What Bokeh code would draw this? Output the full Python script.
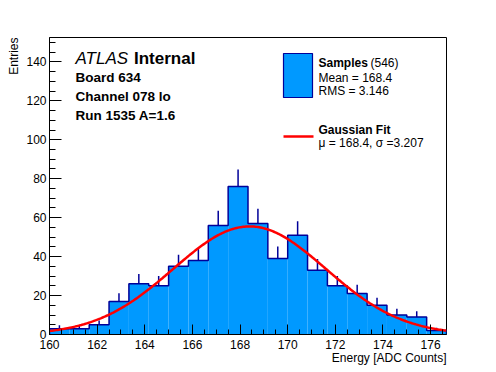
import numpy as np
from bokeh.plotting import figure
from bokeh.models import Range1d, SingleIntervalTicker, Label, Title
from bokeh.embed import file_html
from bokeh.resources import INLINE

# ---------------- data ----------------
x_min = 160.0
x_max = 176.6667
n_bins = 20
counts = [3, 3, 5, 17, 26, 25, 35, 38, 56, 76, 57, 39, 51, 33, 25, 21, 15, 10, 9, 2]
fit_mu = 168.4
fit_sigma = 3.207
fit_amp = 55.5
y_max = 152.5

x_title = "Energy [ADC Counts]"
y_title = "Entries"
atlas_lines = ["Board 634", "Channel 078 lo", "Run 1535 A=1.6"]
legend_samples = ["Mean = 168.4", "RMS = 3.146"]
legend_fit = "\u03bc = 168.4, \u03c3 =3.207"
n_entries = 546

# ---------------- style / layout ----------------
FILL = "#0099ff"
EDGE = "#000099"
FONT = "Liberation Sans"

W, H = 496, 372
# frame position in page pixels
FL, FR, FT, FB = 49.0, 446.0, 37.0, 334.0


def sx(px):
    return x_min + (px - FL) * (x_max - x_min) / (FR - FL)


def sy(py):
    return (FB - py) * y_max / (FB - FT)


edges = np.linspace(x_min, x_max, n_bins + 1)
c = np.array(counts, dtype=float)
centers = 0.5 * (edges[:-1] + edges[1:])
err = np.sqrt(c)

p = figure(width=W, height=H,
           x_range=Range1d(x_min, x_max), y_range=Range1d(0, y_max),
           output_backend="svg", toolbar_location=None,
           min_border_left=int(FL), min_border_right=int(W - FR),
           min_border_top=int(FT), min_border_bottom=int(H - FB))
p.grid.visible = False
p.outline_line_color = "black"
p.outline_line_width = 1
p.background_fill_color = "white"
p.border_fill_color = "white"

p.xaxis.ticker = SingleIntervalTicker(interval=2, num_minor_ticks=4)
p.yaxis.ticker = SingleIntervalTicker(interval=20, num_minor_ticks=4)
for ax in (p.xaxis, p.yaxis):
    ax.major_tick_out = 0
    ax.minor_tick_out = 0
    ax.major_label_text_font = FONT
    ax.major_label_text_font_size = "12px"
    ax.major_label_text_color = "black"
    ax.axis_line_color = "black"
    ax.major_tick_line_color = "black"
    ax.minor_tick_line_color = "black"
p.xaxis.major_tick_in = 10
p.xaxis.minor_tick_in = 5
p.yaxis.major_tick_in = 12
p.yaxis.minor_tick_in = 6
p.xaxis.major_label_standoff = 5
p.yaxis.major_label_standoff = 3

# axis titles, right/top aligned as in ROOT
p.add_layout(Title(text=x_title, align="right", text_font=FONT,
                   text_font_size="12px", text_font_style="normal",
                   text_color="black", standoff=-5), "below")
p.add_layout(Title(text=y_title, align="right", text_font=FONT,
                   text_font_size="12px", text_font_style="normal",
                   text_color="black", standoff=6), "left")

# error bars (lower half hidden by fill)
p.segment(x0=centers, y0=c - err, x1=centers, y1=c + err,
          line_color=EDGE, line_width=1.5)
# fill
p.quad(left=edges[:-1], right=edges[1:], bottom=0, top=c,
       fill_color=FILL, line_color=None)
# outline as step
xs = [edges[0]]
ys = [0.0]
for i in range(n_bins):
    xs += [edges[i], edges[i + 1]]
    ys += [c[i], c[i]]
xs.append(edges[-1])
ys.append(0.0)
p.line(xs, ys, line_color=EDGE, line_width=1.5)

# gaussian fit
xf = np.linspace(x_min, x_max, 300)
yf = fit_amp * np.exp(-0.5 * ((xf - fit_mu) / fit_sigma) ** 2)
p.line(xf, yf, line_color="#ff0000", line_width=2.5)


def add_text(text, px, py, size, style="normal", align="left", angle=0.0):
    p.add_layout(Label(x=sx(px), y=sy(py), text=text, text_font=FONT,
                       text_font_size=size, text_font_style=style,
                       text_align=align, text_baseline="middle",
                       text_color="black", angle=angle))


# ATLAS block
add_text("ATLAS", 75, 58, "17px", "italic")
add_text("Internal", 133.5, 58, "17px", "bold")
for i, t in enumerate(atlas_lines):
    add_text(t, 75, 77 + 19.2 * i, "13.5px", "bold")

# legend
p.quad(left=[sx(283)], right=[sx(312)], bottom=[sy(97)], top=[sy(53)],
       fill_color=FILL, line_color=EDGE, line_width=1.2)
add_text("Samples", 318, 62, "12px", "bold")
add_text("(%d)" % n_entries, 370, 62, "12px")
add_text(legend_samples[0], 318, 77, "12px")
add_text(legend_samples[1], 318, 90, "12px")
p.line([sx(283), sx(313)], [sy(136), sy(136)], line_color="#ff0000", line_width=2.5)
add_text("Gaussian Fit", 318, 129, "12px", "bold")
add_text(legend_fit, 318, 142, "12px")

open("out.html", "w").write(file_html(p, INLINE))
